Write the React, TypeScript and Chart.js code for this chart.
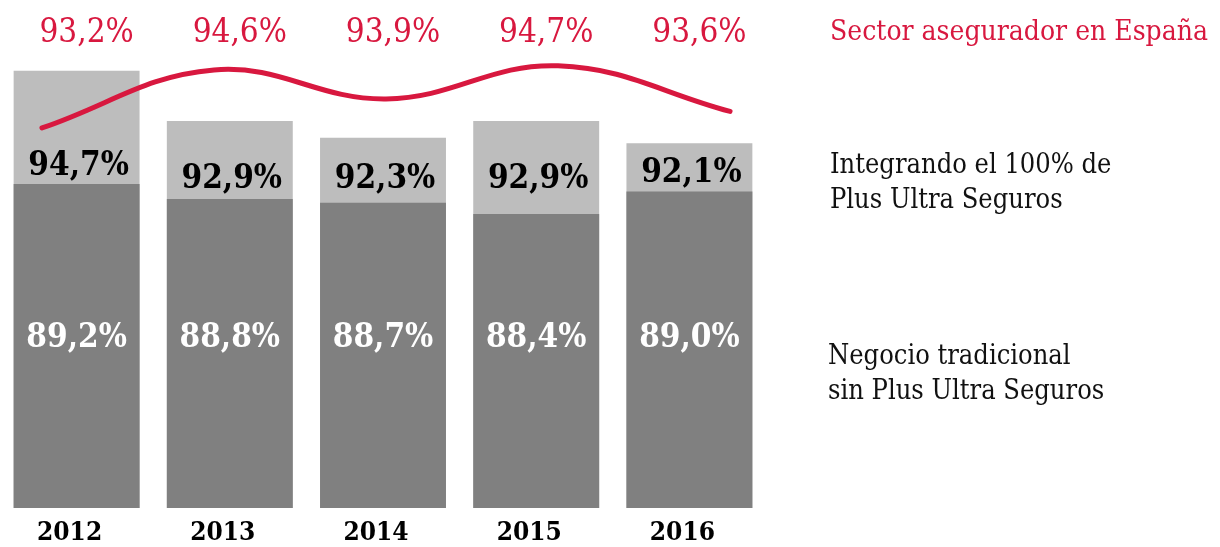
import React, { useEffect, useRef } from "react";
import { Chart, registerables } from "chart.js";

Chart.register(...registerables);

const years = ["2012", "2013", "2014", "2015", "2016"];
const sinPlusUltra = [89.2, 88.8, 88.7, 88.4, 89.0];
const conPlusUltra = [94.7, 92.9, 92.3, 92.9, 92.1];
const sectorEspana = [93.2, 94.6, 93.9, 94.7, 93.6];
const legendSector = ["Sector asegurador en España"];
const legendIntegrando = ["Integrando el 100% de", "Plus Ultra Seguros"];
const legendNegocio = ["Negocio tradicional", "sin Plus Ultra Seguros"];

const RED = "#D8183F";
const DARK = "#808080";
const LIGHT = "#BDBDBD";
const COND = '"DejaVu Serif Condensed", "DejaVu Serif", serif';

const fmt = (v: number) => v.toFixed(1).replace(".", ",") + "%";

const labelPlugin = {
  id: "labelPlugin",
  afterDatasetsDraw(chart: any) {
    const ctx = chart.ctx;
    const area = chart.chartArea;
    const dark = chart.getDatasetMeta(0);
    ctx.save();
    ctx.textAlign = "center";
    ctx.textBaseline = "middle";
    years.forEach((_, i) => {
      const el = dark.data[i];
      if (!el) return;
      ctx.font = `bold 33px ${COND}`;
      ctx.fillStyle = "#FFFFFF";
      ctx.fillText(fmt(sinPlusUltra[i]), el.x, area.bottom - 170);
      ctx.fillStyle = "#000000";
      ctx.fillText(fmt(conPlusUltra[i]), el.x + 2, Math.min(el.y - 18, area.top + 179));
      ctx.fillStyle = RED;
      ctx.font = `33px ${COND}`;
      ctx.fillText(fmt(sectorEspana[i]), el.x + 10, area.top + 33);
    });
    const lx = area.right + 64;
    ctx.textAlign = "left";
    ctx.font = `28px ${COND}`;
    ctx.fillStyle = RED;
    legendSector.forEach((t, k) => ctx.fillText(t, lx, area.top + 33 + k * 35));
    ctx.fillStyle = "#111111";
    ctx.font = `27px ${COND}`;
    legendIntegrando.forEach((t, k) => ctx.fillText(t, lx, area.top + 166 + k * 35));
    legendNegocio.forEach((t, k) => ctx.fillText(t, lx - 2, area.top + 357 + k * 35));
    ctx.restore();
  },
};

export default function App() {
  const ref = useRef<HTMLCanvasElement | null>(null);
  useEffect(() => {
    document.body.style.margin = "0";
    if (!ref.current) return;
    const chart = new Chart(ref.current, {
      type: "bar",
      data: {
        labels: years,
        datasets: [
          {
            type: "bar",
            label: "Negocio tradicional sin Plus Ultra Seguros",
            data: sinPlusUltra,
            backgroundColor: DARK,
            yAxisID: "y",
            order: 1,
            grouped: false,
            categoryPercentage: 1,
            barPercentage: 0.822,
          } as any,
          {
            type: "bar",
            label: "Integrando el 100% de Plus Ultra Seguros",
            data: conPlusUltra,
            backgroundColor: LIGHT,
            yAxisID: "y2",
            order: 2,
            grouped: false,
            categoryPercentage: 1,
            barPercentage: 0.822,
          } as any,
          {
            type: "line",
            label: "Sector asegurador en España",
            data: sectorEspana.map((v, i) => ({ x: i, y: v })),
            borderColor: RED,
            borderWidth: 5,
            borderCapStyle: "round",
            pointRadius: 0,
            tension: 0.4,
            fill: false,
            xAxisID: "x2",
            yAxisID: "y3",
            order: 0,
          } as any,
        ],
      },
      options: {
        responsive: false,
        animation: false,
        layout: { padding: { left: 0, right: 454, top: 0, bottom: 0 } },
        plugins: {
          legend: { display: false },
          tooltip: { enabled: false },
        },
        scales: {
          x: {
            type: "category",
            grid: { display: false, drawTicks: false },
            border: { display: false },
            ticks: {
              color: "#000000",
              padding: 10,
              labelOffset: -7,
              font: { family: COND, size: 26, weight: "bold" },
            },
            afterFit: (axis: any) => {
              axis.height = 39;
            },
          },
          x2: {
            type: "linear",
            axis: "x",
            position: "bottom",
            display: false,
            offset: false,
            grid: { offset: false },
            min: -0.244,
            max: 4.209,
          },
          y: { type: "linear", axis: "y", position: "left", display: false, min: 80.56, max: 94.11 },
          y2: { type: "linear", axis: "y", position: "left", display: false, min: 79.01, max: 97.24 },
          y3: { type: "linear", axis: "y", position: "left", display: false, min: 84.02, max: 96.29 },
        } as any,
      },
      plugins: [labelPlugin],
    });
    return () => chart.destroy();
  }, []);
  return (
    <div style={{ width: 1220, height: 547 }}>
      <canvas ref={ref} width={1220} height={547} style={{ display: "block" }} />
    </div>
  );
}
